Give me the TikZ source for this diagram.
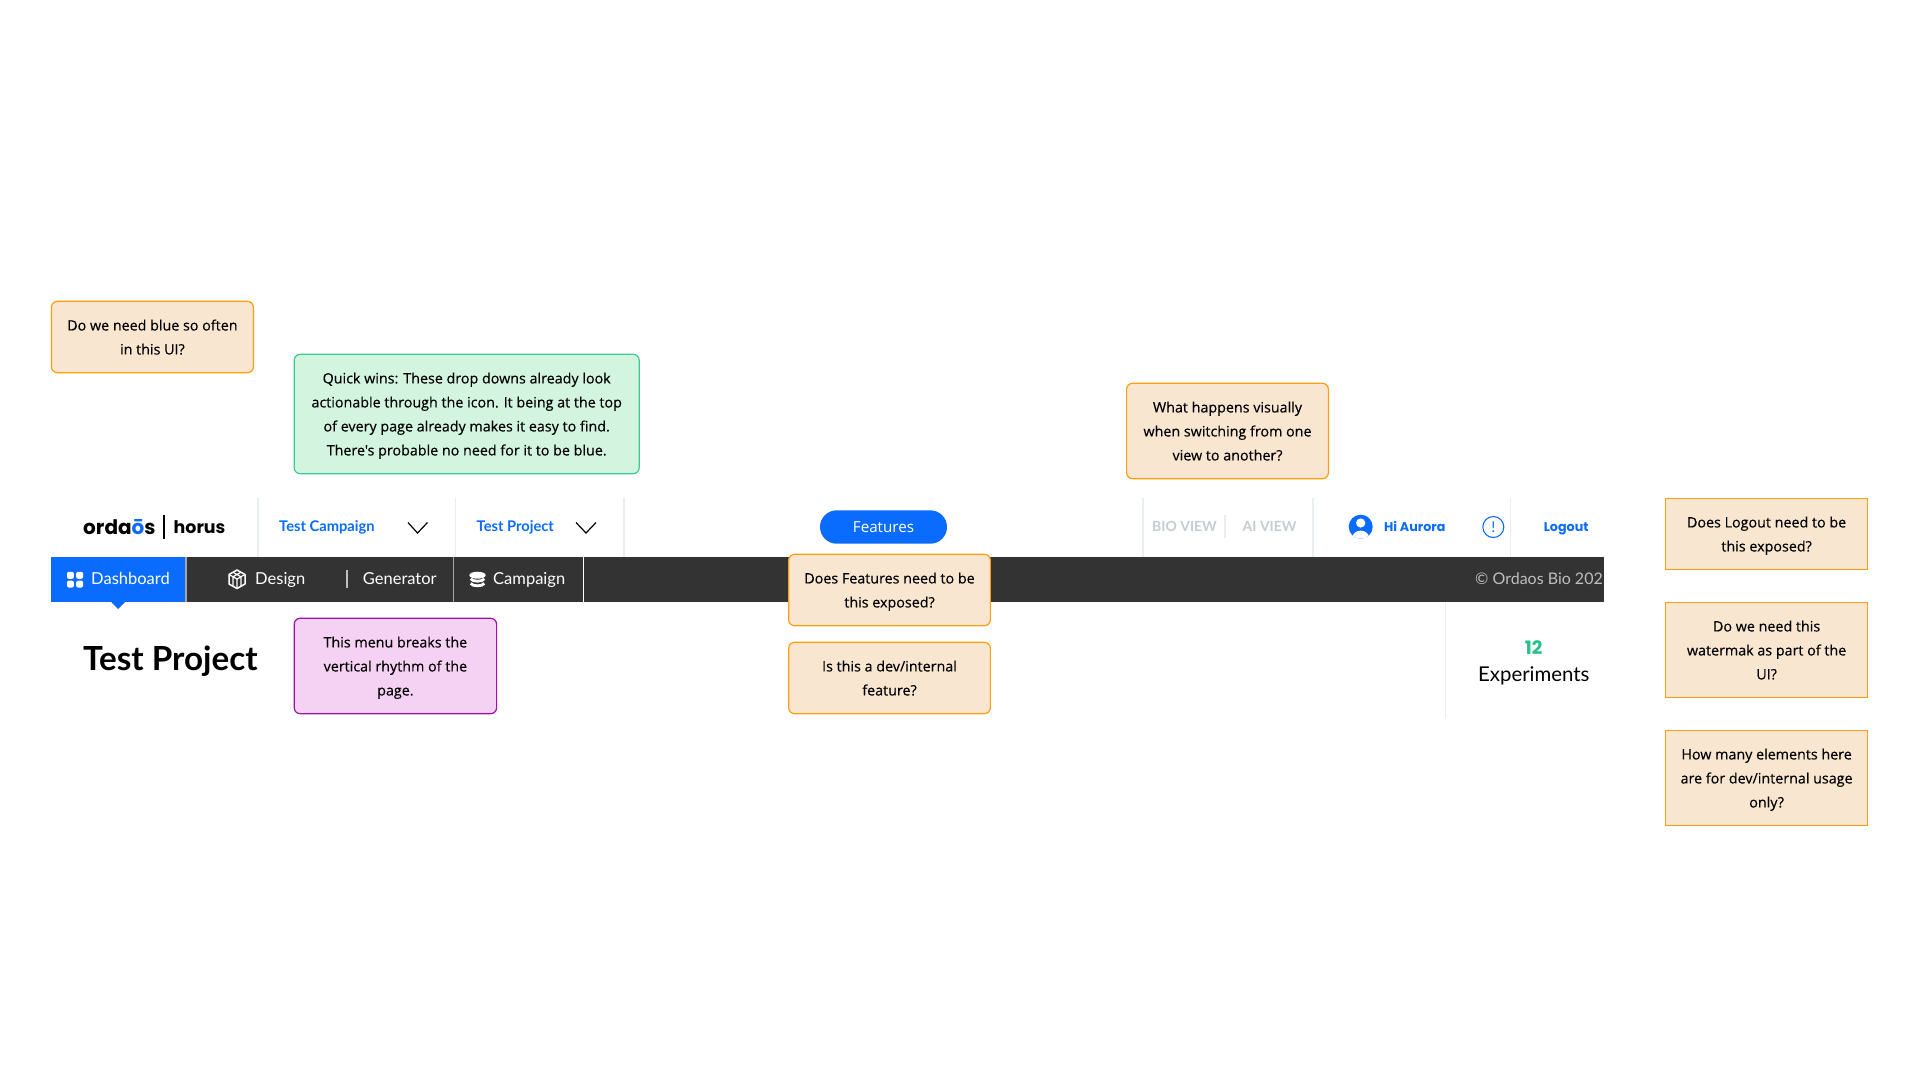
\documentclass[tikz,border=0pt]{standalone}
\usepackage{fontspec}
\setmainfont{Open Sans}
\newfontfamily\notefont[RawFeature={embolden=0.25}]{Open Sans}
\newfontfamily\navfont{Lato}
\newfontfamily\logofont{Poppins}
\definecolor{notebg}{HTML}{F9E6D0}
\definecolor{notebd}{HTML}{FF9E0F}
\definecolor{greenbg}{HTML}{D3F5DF}
\definecolor{greenbd}{HTML}{3CCB93}
\definecolor{pinkbg}{HTML}{F5D1F4}
\definecolor{pinkbd}{HTML}{A40FA8}
\definecolor{brand}{HTML}{0A6CFF}
\definecolor{barbg}{HTML}{333333}
\definecolor{sepgray}{HTML}{E9EEF0}
\definecolor{viewgray}{HTML}{C5CDD1}
\definecolor{numgreen}{HTML}{26C28A}
\tikzset{
  note/.style={draw=notebd,fill=notebg,line width=1.2pt,rounded corners=6pt,align=center,inner sep=0pt,text depth=0pt,
    font=\notefont\fontsize{14.3}{24}\selectfont,text=black},
  sharpnote/.style={note,rounded corners=0pt},
  greennote/.style={note,draw=greenbd,fill=greenbg},
  pinknote/.style={note,draw=pinkbd,fill=pinkbg},
  lab/.style={inner sep=0pt,anchor=base west},
  topnav/.style={lab,text=brand,font=\navfont\bfseries\fontsize{14.7}{16}\selectfont},
  heavynav/.style={lab,text=brand,font=\logofont\bfseries\fontsize{12.7}{16}\selectfont},
  barnav/.style={lab,text=white,font=\navfont\fontsize{16.5}{18}\selectfont},
  viewnav/.style={lab,text=viewgray,font=\navfont\bfseries\fontsize{14}{16}\selectfont},
  sepline/.style={draw=sepgray,line width=1.6pt},
  chev/.style={draw=black,line width=1.2pt},
}
\begin{document}
\begin{tikzpicture}[x=1pt,y=-1pt]
\useasboundingbox (0,0) rectangle (1920,1080);
\fill[white] (0,0) rectangle (1920,1080);

% top nav separators
\coordinate (s1t) at (258,498); \coordinate (s1b) at (258,557);
\coordinate (s2t) at (455.5,498); \coordinate (s2b) at (455.5,557);
\coordinate (s3t) at (623.7,498); \coordinate (s3b) at (623.7,557);
\coordinate (s4t) at (1143,498); \coordinate (s4b) at (1143,557);
\coordinate (s5t) at (1225,515); \coordinate (s5b) at (1225,538);
\coordinate (s6t) at (1313,498); \coordinate (s6b) at (1313,557);
\coordinate (s7t) at (1510.5,498); \coordinate (s7b) at (1510.5,557);
\foreach \a/\b in {s1t/s1b,s2t/s2b,s3t/s3b,s4t/s4b,s5t/s5b,s6t/s6b,s7t/s7b} \draw[sepline] (\a) -- (\b);

% logo
\node[lab,font=\logofont\bfseries\fontsize{20}{24}\selectfont] (ordaos) at (83,534) {orda{\color{brand}ō}s};
\coordinate (lbt) at (164,514.5); \coordinate (lbb) at (164,539);
\draw[black,line width=1.6pt] (lbt) -- (lbb);
\node[lab,font=\logofont\bfseries\fontsize{17.4}{24}\selectfont] (horus) at (173.5,533.5) {horus};

% dropdowns
\node[topnav] (tcamp) at (279,531.5) {Test Campaign};
\coordinate (c1a) at (408,522.5); \coordinate (c1b) at (417.5,533); \coordinate (c1c) at (427.5,522.5);
\draw[chev] (c1a) -- (c1b) -- (c1c);
\node[topnav] (tproj) at (476.5,531.5) {Test Project};
\coordinate (c2a) at (576,522.5); \coordinate (c2b) at (586,533); \coordinate (c2c) at (596,522.5);
\draw[chev] (c2a) -- (c2b) -- (c2c);

% features pill
\node[fill=brand,rounded corners=16.7pt,minimum width=127pt,minimum height=33.4pt,inner sep=0pt,text=white,
  font=\fontsize{15.2}{16}\selectfont] (features) at (883.5,527) {Features};

% views
\node[viewnav] (bio) at (1152,531) {BIO VIEW};
\node[viewnav] (ai) at (1242.5,531) {AI VIEW};

% user
\node[circle,fill=brand,minimum size=24pt,inner sep=0pt] (user) at (1360.7,526.7) {};
\begin{scope}
\clip (1360.7,526.7) circle (12);
\fill[white] (1360.7,523) circle (4.6);
\fill[white] (1360.7,538.2) ellipse (8.6 and 7.6);
\end{scope}
\node[heavynav] (hi) at (1384,531.5) {Hi Aurora};
\node[circle,draw=brand,line width=1.1pt,minimum size=21pt,inner sep=0pt,text=brand,font=\navfont\fontsize{15}{16}\selectfont] (info) at (1493.3,527) {!};
\node[heavynav] (logout) at (1543.7,531.5) {Logout};

% dark bar
\fill[barbg] (51,557) rectangle (1604,601.7);
\fill[brand] (51,557) rectangle (185,601.7);
\coordinate (ta) at (111,601.7); \coordinate (tb) at (118,609); \coordinate (tc) at (125.5,601.7);
\fill[brand] (ta) -- (tb) -- (tc) -- cycle;
\draw[gray!70,line width=1.6pt] (186,557) -- (186,601.7);
\draw[gray!70,line width=1.6pt] (453.3,557) -- (453.3,601.7);
\draw[white,line width=1pt] (583.7,557) -- (583.7,601.7);
\draw[gray!50!white,line width=1.2pt] (347,570) -- (347,588);

% dashboard icon
\foreach \x/\y in {67/571.8,76.2/571.8,67/580.6,76.2/580.6}
  \fill[white,rounded corners=2pt] (\x,\y) rectangle ++(6.9,7);
\node[barnav] (dash) at (91,584.5) {Dashboard};

% design icon
\draw[white,line width=1.5pt,line join=round]
  (237,570) -- (245,574.5) -- (245,584) -- (237,588.5) -- (229,584) -- (229,574.5) -- cycle;
\draw[white,line width=1.2pt] (229,574.5) -- (237,579) -- (245,574.5) (237,579) -- (237,588.5)
  (233,572.2) -- (241,576.8) (241,572.2) -- (233,576.8) (233,577) -- (233,586) (241,577) -- (241,586);
\node[barnav] (design) at (255,584.5) {Design};
\node[barnav] (gen) at (362.7,584.5) {Generator};

% campaign icon
\fill[white] (477.5,575.2) ellipse (8.2 and 3.5);
\draw[white,line width=2.8pt] (470.7,578.8) .. controls (472.5,582) and (482.5,582) .. (484.3,578.8);
\draw[white,line width=2.8pt] (470.7,583.4) .. controls (472.5,586.6) and (482.5,586.6) .. (484.3,583.4);
\node[barnav] (camp) at (493,584.5) {Campaign};

% copyright
\node[lab,text=white!75!black,font=\navfont\fontsize{16}{18}\selectfont] (copy) at (1475,584) {© Ordaos Bio 202};

% title
\node[lab,font=\navfont\bfseries\fontsize{33.2}{36}\selectfont] (title) at (83,670) {Test Project};

% experiments
\coordinate (e1) at (1445.7,602); \coordinate (e2) at (1445.7,717.7);
\draw[sepgray,line width=1pt] (e1) -- (e2);
\node[inner sep=0pt,text=numgreen,font=\logofont\bfseries\fontsize{18.5}{20}\selectfont] (num) at (1533.6,648) {12};
\node[inner sep=0pt,font=\navfont\fontsize{20.4}{24}\selectfont] (exp) at (1533.8,676) {Experiments};

% notes
\node[note,minimum width=202pt,minimum height=71.4pt] (n1) at (152.4,337) {Do we need blue so often\\in this UI?};
\node[greennote,minimum width=345pt,minimum height=119.4pt] (n2) at (466.7,414) {Quick wins: These drop downs already look\\actionable through the icon. It being at the top\\of every page already makes it easy to find.\\There's probable no need for it to be blue.};
\node[pinknote,minimum width=202.4pt,minimum height=95.4pt] (n3) at (395.4,666) {This menu breaks the\\vertical rhythm of the\\page.};
\node[note,minimum width=201.7pt,minimum height=71.4pt] (n4) at (889.5,590) {Does Features need to be\\this exposed?};
\node[note,minimum width=201.7pt,minimum height=71.4pt] (n5) at (889.5,678) {Is this a dev/internal\\feature?};
\node[note,minimum width=201.8pt,minimum height=95.4pt] (n6) at (1227.5,431) {What happens visually\\when switching from one\\view to another?};
\node[sharpnote,minimum width=202pt,minimum height=71.4pt] (n7) at (1766.6,534) {Does Logout need to be\\this exposed?};
\node[sharpnote,minimum width=202pt,minimum height=95.4pt] (n8) at (1766.6,650) {Do we need this\\watermak as part of the\\UI?};
\node[sharpnote,minimum width=202pt,minimum height=95.4pt] (n9) at (1766.6,778) {How many elements here\\are for dev/internal usage\\only?};
\end{tikzpicture}
\end{document}
